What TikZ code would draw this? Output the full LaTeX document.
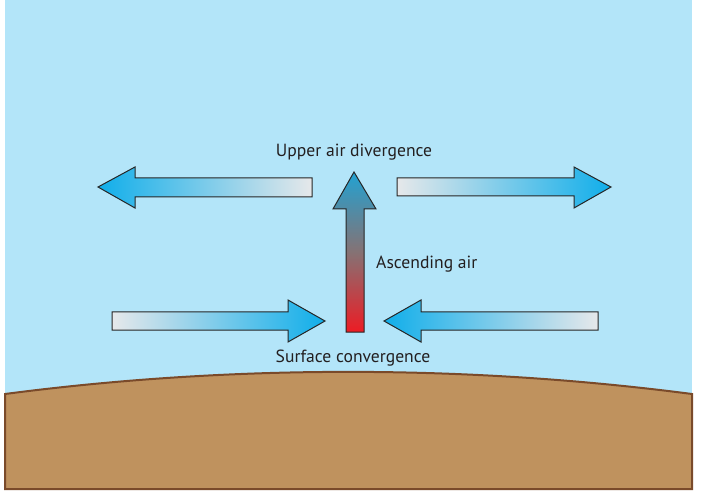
\documentclass[tikz,border=0pt]{standalone}
\usepackage{fontspec}
\setmainfont{PT Sans}
\definecolor{sky}{HTML}{B3E5F9}
\definecolor{ground}{HTML}{BF925E}
\definecolor{groundedge}{HTML}{7A4A2A}
\definecolor{arrowblue}{HTML}{10AEEA}
\definecolor{arrowgray}{HTML}{E6E8EA}
\definecolor{hotred}{HTML}{ED1C24}
\definecolor{coolblue}{HTML}{22A2D2}
\definecolor{midgray}{HTML}{857274}
\definecolor{textcol}{HTML}{231F20}
\tikzset{
  windarrow/.style={draw=black!85, line width=1pt, line join=miter},
  lbl/.style={font=\fontsize{17.6}{20}\selectfont, text=textcol, inner sep=0pt},
}
\begin{document}
\begin{tikzpicture}[x=1pt,y=-1pt]
\useasboundingbox (0,0) rectangle (704,494);
% sky
\fill[sky] (5,0) rectangle (692,489);
% ground
\draw[groundedge, fill=ground, line width=2pt]
  (5,394) .. controls (230,364.5) and (466,364.5) .. (692,394)
  -- (692,489) -- (5,489) -- cycle;
% upper left arrow (pointing left)
\path[windarrow, left color=arrowblue, right color=arrowgray]
  (98,187) -- (135,167) -- (135,178) -- (312,178) -- (312,197) -- (135,197) -- (135,208) -- cycle;
% upper right arrow (pointing right)
\path[windarrow, left color=arrowgray, right color=arrowblue]
  (611,187) -- (574,167) -- (574,178) -- (397,178) -- (397,196) -- (574,196) -- (574,208) -- cycle;
% lower left arrow (pointing right)
\path[windarrow, left color=arrowgray, right color=arrowblue]
  (325,321) -- (288,300) -- (288,312) -- (112,312) -- (112,330) -- (288,330) -- (288,342) -- cycle;
% lower right arrow (pointing left)
\path[windarrow, left color=arrowblue, right color=arrowgray]
  (384,321) -- (421,300) -- (421,312) -- (598,312) -- (598,330) -- (421,330) -- (421,342) -- cycle;
% ascending arrow
\path[windarrow, top color=coolblue, bottom color=hotred, middle color=midgray]
  (354,172) -- (376,209) -- (364,209) -- (364,332) -- (346,332) -- (346,209) -- (333,209) -- cycle;
% labels
\node[lbl, anchor=base] (upper) at (354,157) {Upper air divergence};
\node[lbl, anchor=base west] (ascend) at (376,269) {Ascending air};
\node[lbl, anchor=base] (surface) at (353,362) {Surface convergence};
\end{tikzpicture}
\end{document}
